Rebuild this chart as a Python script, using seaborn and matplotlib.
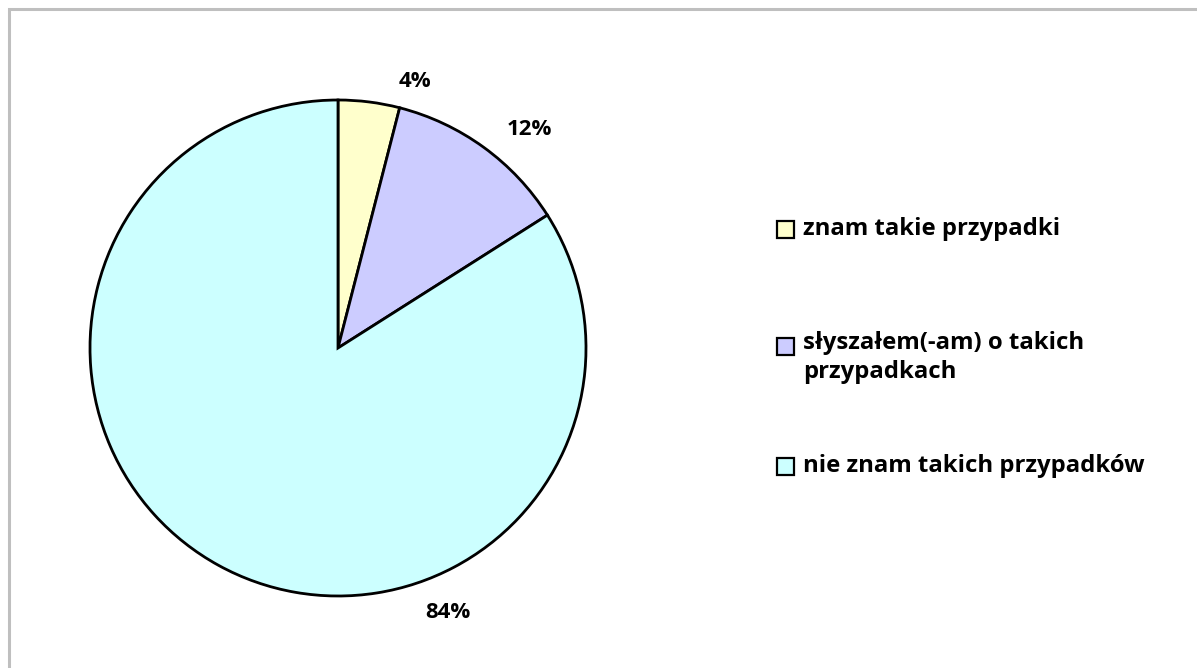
import matplotlib
matplotlib.use("Agg")
import matplotlib.pyplot as plt
from matplotlib.patches import Rectangle
import numpy as np
import seaborn as sns

categories = ["znam takie przypadki", "słyszałem(-am) o takich\nprzypadkach", "nie znam takich przypadków"]
values = [4, 12, 84]
pct_labels = ["4%", "12%", "84%"]
colors = ["#FFFFCC", "#CCCCFF", "#CCFFFF"]

sns.set_theme(style="white")
plt.rcParams["font.family"] = ["Open Sans", "DejaVu Sans"]
plt.rcParams["font.weight"] = "bold"

FS_LEG = 17.2
FS_LAB = 16

W, H = 1197, 668
fig = plt.figure(figsize=(W / 100, H / 100), dpi=100)
fig.patch.set_facecolor("white")

# frame (only top & left visible in reference)
fig.add_artist(Rectangle((8.5 / W, -0.1), 1.2, (H - 9.5) / H + 0.1, transform=fig.transFigure,
                         fill=False, edgecolor="#BFBFBF", linewidth=2.2))

cx, cy, r = 338, 348, 248
ax = fig.add_axes([(cx - r) / W, (H - cy - r) / H, 2 * r / W, 2 * r / H])
wedges, _ = ax.pie(values, colors=colors, startangle=90, counterclock=False, radius=1.0,
                   wedgeprops=dict(edgecolor="black", linewidth=2))
ax.set_xlim(-1, 1)
ax.set_ylim(-1, 1)
ax.set_aspect("equal")
ax.axis("off")

# percentage labels (Excel outside-end placement)
label_angles = [73.9, 48.8, -67.4]
label_dist = [1.12, 1.17, 1.155]
for t, a, d in zip(pct_labels, label_angles, label_dist):
    ax.text(d * np.cos(np.radians(a)), d * np.sin(np.radians(a)), t,
            ha="center", va="center", fontsize=FS_LAB, fontweight="bold", color="black")

# legend
leg_y = [229, 346, 466]
for lab, col, y in zip(categories, colors, leg_y):
    fig.add_artist(Rectangle((777 / W, (H - y - 9) / H), 17 / W, 17 / H, transform=fig.transFigure,
                             facecolor=col, edgecolor="black", linewidth=1.6))
    if "\n" in lab:
        fig.text(803 / W, (H - y + 15) / H, lab, ha="left", va="top",
                 fontsize=FS_LEG, fontweight="bold", color="black", linespacing=1.3)
    else:
        fig.text(803 / W, (H - y) / H, lab, ha="left", va="center",
                 fontsize=FS_LEG, fontweight="bold", color="black")

fig.savefig("out.png", dpi=100)
